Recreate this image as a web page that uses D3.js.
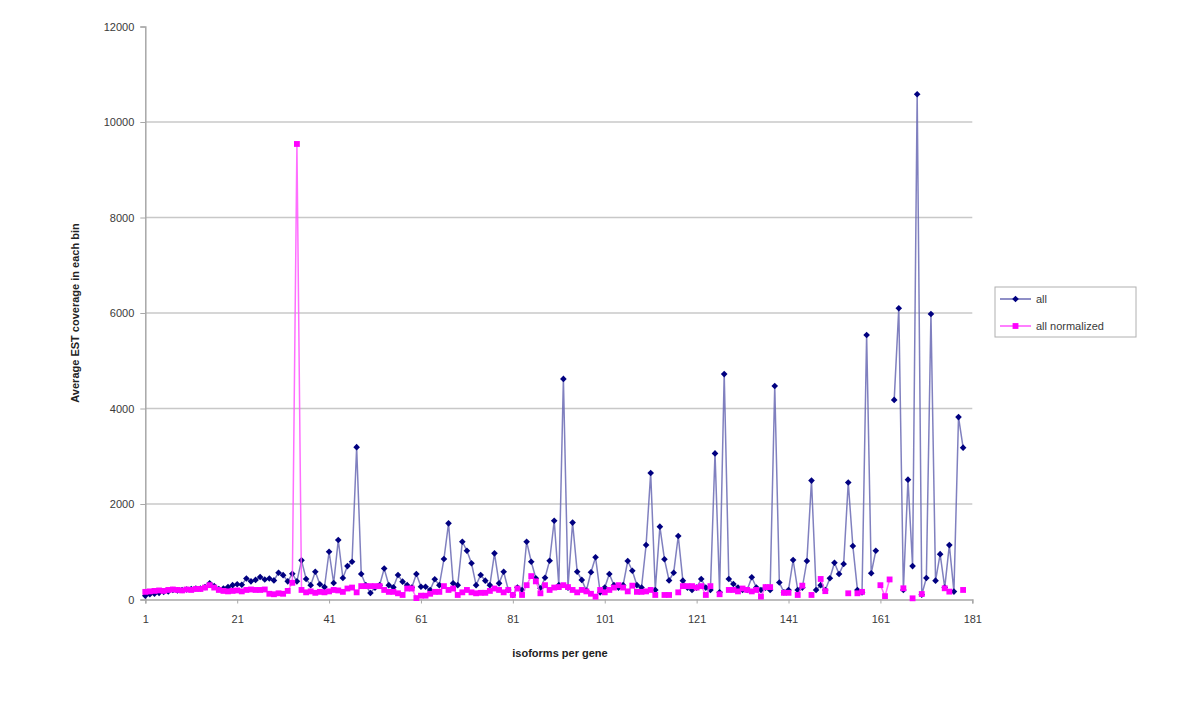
<!DOCTYPE html>
<html>
<head>
<meta charset="utf-8">
<script src="https://cdn.jsdelivr.net/npm/d3@7"></script>
<style>
  html, body { margin: 0; padding: 0; background: #ffffff; }
  svg { display: block; }
  text { font-family: "Liberation Sans", Arial, Helvetica, sans-serif; }
</style>
</head>
<body>
<svg id="chart" width="1200" height="720"></svg>
<script>
// ---- data ----
const xTicks = [1, 21, 41, 61, 81, 101, 121, 141, 161, 181];
const yTicks = [0, 2000, 4000, 6000, 8000, 10000, 12000];
const seriesNames = ["all", "all normalized"];

// "all": average EST coverage per bin, bins 1..179 (null = no point)
const allValues = [
  80, 110, 120, 140, 160, 170, 200, 190, 200, 210,
  220, 230, 230, 260, 340, 280, 220, 230, 260, 300,
  320, 310, 440, 380, 410, 470, 420, 440, 400, 560,
  510, 380, 540, 380, 820, 430, 300, 580, 320, 260,
  1000, 345, 1245, 450, 700, 790, 3190, 535, 300, 135,
  250, 300, 650, 300, 255, 513, 373, 300, 250, 534,
  268, 268, 200, 423, 300, 848, 1595, 339, 300, 1210,
  1022, 758, 300, 513, 394, 300, 967, 339, 582, 200,
  94, 250, 200, 1210, 791, 444, 235, 456, 812, 1650,
  300, 4620, 250, 1610, 582, 410, 185, 570, 884, 150,
  250, 534, 300, 250, 300, 806, 603, 300, 250, 1141,
  2650, 200, 1525, 842, 400, 561, 1330, 394, 250, 200,
  250, 430, 250, 200, 3060, 150, 4720, 430, 325, 250,
  200, 200, 465, 250, 200, 250, 200, 4470, 355, 150,
  200, 827, 200, 250, 806, 2490, 200, 300, 200, 444,
  770, 534, 743, 2450, 1120, 200, 150, 5540, 550, 1020,
  null, null, null, 4180, 6100, 200, 2510, 700, 10580, 100,
  450, 5980, 395, 950, 250, 1140, 165, 3820, 3180
];

// "all normalized", bins 1..179 (null = no point)
const normValues = [
  160, 170, 180, 190, 180, 200, 210, 200, 190, 210,
  200, 220, 220, 250, 300, 250, 200, 180, 170, 180,
  190, 170, 200, 210, 200, 200, 210, 120, 110, 130,
  120, 180, 350, 9540, 200, 150, 170, 140, 160, 150,
  170, 200, 190, 160, 230, 250, 150, 280, 280, 280,
  280, 280, 200, 160, 160, 130, 95, 230, 230, 30,
  80, 80, 120, 160, 160, 280, 200, 230, 95, 150,
  200, 150, 130, 140, 140, 180, 230, 200, 150, 200,
  95, 230, 95, 300, 490, 380, 130, 300, 200, 250,
  260, 300, 260, 200, 150, 200, 170, 120, 60, 200,
  150, 200, 250, 300, 250, 170, 290, 160, 160, 170,
  200, 95, null, 95, 95, null, 150, 280, 280, 280,
  250, 280, 95, 280, null, 110, null, 200, 200, 170,
  230, 200, 170, 200, 60, 260, 260, null, null, 140,
  140, null, 95, 290, null, 95, null, 430, 175, null,
  null, null, null, 130, null, 130, 160, null, null, null,
  300, 70, 420, null, null, 235, null, 25, null, 115,
  null, null, null, null, 235, 165, null, null, 200
];

const bins = allValues.map((_, i) => i + 1);

// ---- layout ----
const svg = d3.select("#chart");
const plot = { left: 145.3, right: 972.3, top: 26.5, bottom: 599.5 };

const x = d3.scaleLinear().domain([1, 181]).range([plot.left, plot.right]);
const y = d3.scaleLinear().domain([0, 12000]).range([plot.bottom, plot.top]);

const gridColor = "#c8c8c8";
const axisColor = "#a8a8a8";
const textColor = "#3a3a3a";

// gridlines
svg.append("g")
  .selectAll("line")
  .data(yTicks.filter(d => d > 0 && d < 12000))
  .join("line")
  .attr("x1", plot.left).attr("x2", plot.right)
  .attr("y1", d => y(d)).attr("y2", d => y(d))
  .attr("stroke", gridColor).attr("stroke-width", 1.5);

// y axis
const yAxis = d3.axisLeft(y).tickValues(yTicks).tickSize(5).tickPadding(6)
  .tickFormat(d3.format("d"));
const gy = svg.append("g").attr("transform", `translate(${plot.left},0)`).call(yAxis);
gy.select(".domain").attr("stroke", axisColor).attr("stroke-width", 1.5);
gy.selectAll(".tick line").attr("stroke", axisColor);
gy.selectAll(".tick text").attr("fill", textColor).attr("font-size", 11)
  .attr("font-family", "Liberation Sans, Arial, sans-serif");

// x axis
const xAxis = d3.axisBottom(x).tickValues(xTicks).tickSize(4).tickPadding(12)
  .tickFormat(d3.format("d"));
const gx = svg.append("g").attr("transform", `translate(0,${plot.bottom})`).call(xAxis);
gx.select(".domain").attr("stroke", axisColor).attr("stroke-width", 1.5);
gx.selectAll(".tick line").attr("stroke", axisColor);
gx.selectAll(".tick text").attr("fill", textColor).attr("font-size", 11)
  .attr("font-family", "Liberation Sans, Arial, sans-serif");

// series
const series = [
  { name: seriesNames[0], values: allValues, line: "#6a6ab4", marker: "#000080", symbol: d3.symbolSquare, size: 22, rot: 45 },
  { name: seriesNames[1], values: normValues, line: "#ff55ff", marker: "#ff00ff", symbol: d3.symbolSquare, size: 34, rot: 0 }
];

const lineGen = d3.line()
  .defined(d => d.v !== null)
  .x(d => x(d.i))
  .y(d => y(d.v));

series.forEach(s => {
  const pts = bins.map((b, k) => ({ i: b, v: s.values[k] }));
  const g = svg.append("g");
  g.append("path")
    .datum(pts)
    .attr("d", lineGen)
    .attr("fill", "none")
    .attr("stroke", s.line)
    .attr("stroke-width", 1.5)
    .attr("stroke-opacity", 0.85);
  g.selectAll("path.m")
    .data(pts.filter(d => d.v !== null))
    .join("path")
    .attr("class", "m")
    .attr("transform", d => `translate(${x(d.i)},${y(d.v)}) rotate(${s.rot})`)
    .attr("d", d3.symbol().type(s.symbol).size(s.size))
    .attr("fill", s.marker);
});

// legend
const lg = svg.append("g").attr("transform", "translate(995,287)");
lg.append("rect").attr("width", 141).attr("height", 50)
  .attr("fill", "#ffffff").attr("stroke", "#b0b0b0").attr("stroke-width", 1);
series.forEach((s, k) => {
  const yy = 12 + k * 27;
  lg.append("line").attr("x1", 5).attr("x2", 36).attr("y1", yy).attr("y2", yy)
    .attr("stroke", s.line).attr("stroke-width", 1.5);
  lg.append("path").attr("transform", `translate(20.5,${yy}) rotate(${s.rot})`)
    .attr("d", d3.symbol().type(s.symbol).size(s.size)).attr("fill", s.marker);
  lg.append("text").attr("x", 41).attr("y", yy + 4).text(s.name)
    .attr("font-size", 11).attr("fill", textColor);
});

// axis titles
svg.append("text").attr("x", 560).attr("y", 657).attr("text-anchor", "middle")
  .attr("font-size", 11).attr("font-weight", "bold").attr("fill", "#222")
  .text("isoforms per gene");
svg.append("text").attr("transform", "translate(79,313) rotate(-90)")
  .attr("text-anchor", "middle").attr("font-size", 11).attr("font-weight", "bold")
  .attr("fill", "#222").text("Average EST coverage in each bin");
</script>
</body>
</html>
